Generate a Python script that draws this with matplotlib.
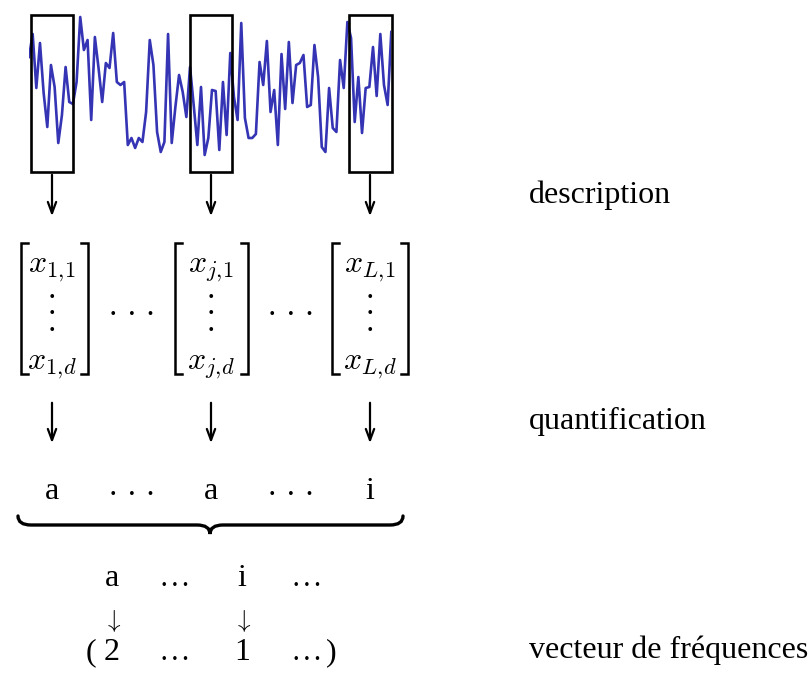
import numpy as np
import matplotlib
matplotlib.use('Agg')
from matplotlib import pyplot as plt
from matplotlib.patches import Rectangle, PathPatch
from matplotlib.path import Path

plt.rcParams['font.family'] = ['Liberation Serif', 'DejaVu Serif']
plt.rcParams['mathtext.fontset'] = 'cm'

# signal amplitude (100 samples)
signal = [103, 126, 72, 117, 67, 33, 95, 73, 17, 45,
          93, 58, 56, 78, 143, 110, 120, 40, 123, 92,
          58, 97, 92, 127, 78, 75, 78, 15, 22, 12,
          22, 18, 48, 120, 95, 28, 8, 18, 126, 17,
          53, 85, 68, 43, 93, 55, 15, 73, 5, 22,
          70, 69, 10, 78, 25, 107, 63, 40, 137, 42,
          22, 22, 26, 98, 75, 119, 48, 70, 15, 106,
          51, 118, 57, 95, 97, 105, 53, 55, 115, 83,
          13, 8, 72, 32, 28, 100, 72, 138, 122, 38,
          83, 27, 72, 73, 113, 64, 126, 75, 55, 128]
windows = [(0.5, 12.1), (44.0, 55.6), (87.5, 99.1)]

vec_top = [r'$x_{1,\!1}$', r'$x_{j,\!1}$', r'$x_{L,\!1}$']
vec_bot = [r'$x_{1,\!d}$', r'$x_{j,\!d}$', r'$x_{L,\!d}$']
words = ['a', 'a', 'i']
hist_words = ['a', r'$\ldots$', 'i', r'$\ldots$']
hist_counts = ['2', r'$\ldots$', '1', r'$\ldots$']
steps = ['description', 'quantification', 'vecteur de fréquences']

W, H = 810, 675
fig = plt.figure(figsize=(8.1, 6.75), dpi=100)

# canvas in pixel coords
cv = fig.add_axes([0, 0, 1, 1])
cv.set_xlim(0, W)
cv.set_ylim(H, 0)
cv.axis('off')

# signal
ax = fig.add_axes([29 / W, 1 - 172 / H, (391.3 - 29) / W, 157 / H])
ax.plot(np.arange(len(signal)), signal, color='#3434b4', lw=1.9)
ax.set_xlim(0, len(signal) - 1)
ax.set_ylim(-12, 145)
ax.axis('off')
for a, b in windows:
    ax.add_patch(Rectangle((a, -12), b - a, 157, fill=False, ec='black',
                           lw=1.9, clip_on=False, zorder=3))

cols = [52, 211, 370]
gaps = [132, 291]
hdots = '\u00b7 \u00b7 \u00b7'
vdots = '\u00b7\n\u00b7\n\u00b7'
arrow_kw = dict(arrowstyle='->,head_length=0.8,head_width=0.3', color='black', lw=1.6)
for i, x in enumerate(cols):
    cv.annotate('', xy=(x, 219), xytext=(x, 172), arrowprops=arrow_kw)
    cv.annotate('', xy=(x, 446), xytext=(x, 400), arrowprops=arrow_kw)
    # vector entries
    cv.text(x, 272, vec_top[i], fontsize=23, ha='center', va='baseline')
    cv.text(x, 316, vdots, fontsize=23, ha='center', va='center',
            multialignment='center', linespacing=0.45)
    cv.text(x, 369, vec_bot[i], fontsize=23, ha='center', va='baseline')
    cv.text(x, 499, words[i], fontsize=23, ha='center', va='baseline')

# brackets
brackets = [(21, 88), (175, 248), (332, 408)]
for l, r in brackets:
    cv.plot([l + 7, l, l, l + 7], [243, 243, 374, 374], color='black', lw=1.8,
            solid_joinstyle='miter')
    cv.plot([r - 7, r, r, r - 7], [243, 243, 374, 374], color='black', lw=1.8,
            solid_joinstyle='miter')

for g in gaps:
    cv.text(g, 316, hdots, fontsize=23, ha='center', va='center')
    cv.text(g, 497, hdots, fontsize=23, ha='center', va='center')

# brace under the words
verts = [(18, 516), (18, 525), (31, 525), (197, 525), (210, 525), (210, 534),
         (210, 525), (223, 525), (390, 525), (403, 525), (403, 516)]
codes = [Path.MOVETO, Path.CURVE3, Path.CURVE3, Path.LINETO, Path.CURVE3, Path.CURVE3,
         Path.CURVE3, Path.CURVE3, Path.LINETO, Path.CURVE3, Path.CURVE3]
cv.add_patch(PathPatch(Path(verts, codes), fill=False, lw=2.4, ec='black',
                       capstyle='round'))

# histogram part
hx = [112, 173, 242, 305]
for x, w, c in zip(hx, hist_words, hist_counts):
    cv.text(x, 586, w, fontsize=23, ha='center', va='baseline')
    if c in ('1', '2'):
        cv.text(x, 621, r'$\downarrow$', fontsize=18, ha='center', va='center')
    cv.text(x, 660, c, fontsize=23, ha='center', va='baseline')
cv.text(91, 660, '(', fontsize=23, ha='center', va='baseline')
cv.text(331, 660, ')', fontsize=23, ha='center', va='baseline')

for y, s in zip([203, 429, 658], steps):
    cv.text(529, y, s, fontsize=23, ha='left', va='baseline')

fig.savefig('out.png', dpi=100)
